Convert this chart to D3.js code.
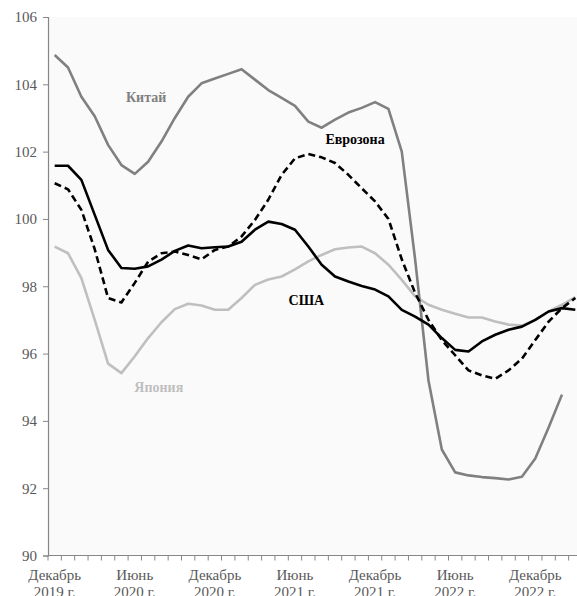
<!DOCTYPE html>
<html>
<head>
<meta charset="utf-8">
<script src="https://cdn.jsdelivr.net/npm/d3@7"></script>
<style>
  html, body { margin: 0; padding: 0; background: #ffffff; overflow: hidden; }
  svg { display: block; }
</style>
</head>
<body>
<svg id="chart" width="577" height="596"></svg>
<script>
// Months: December 2019 .. March 2023 (40 monthly points)
const months = d3.range(40).map(i => "m" + i);
const tickLabels = [
  {i: 0,  l1: "Декабрь", l2: "2019 г."},
  {i: 6,  l1: "Июнь",    l2: "2020 г."},
  {i: 12, l1: "Декабрь", l2: "2020 г."},
  {i: 18, l1: "Июнь",    l2: "2021 г."},
  {i: 24, l1: "Декабрь", l2: "2021 г."},
  {i: 30, l1: "Июнь",    l2: "2022 г."},
  {i: 36, l1: "Декабрь", l2: "2022 г."}
];
const yTicks = [90, 92, 94, 96, 98, 100, 102, 104, 106];

const china = [104.87, 104.5, 103.63, 103.05, 102.2, 101.6, 101.34, 101.7, 102.3, 103.0,
  103.63, 104.03, 104.17, 104.31, 104.45, 104.14, 103.83, 103.6, 103.36, 102.89,
  102.71, 102.95, 103.16, 103.3, 103.47, 103.27, 102.0, 98.8, 95.2, 93.15,
  92.47, 92.38, 92.33, 92.3, 92.26, 92.34, 92.88, 93.8, 94.78];
const eurozone = [101.06, 100.88, 100.27, 99.1, 97.65, 97.52, 98.1, 98.73, 98.98, 99.03,
  98.93, 98.8, 99.08, 99.18, 99.48, 99.97, 100.57, 101.31, 101.8, 101.93,
  101.83, 101.66, 101.31, 100.91, 100.52, 100.0, 98.8, 97.8, 97.0, 96.4,
  95.95, 95.5, 95.35, 95.25, 95.5, 95.85, 96.4, 96.95, 97.35, 97.65];
const usa = [101.58, 101.58, 101.16, 100.12, 99.08, 98.54, 98.52, 98.59, 98.79, 99.05,
  99.21, 99.13, 99.16, 99.18, 99.32, 99.68, 99.92, 99.85, 99.68, 99.18,
  98.64, 98.29, 98.14, 98.01, 97.9, 97.7, 97.3, 97.1, 96.86, 96.46,
  96.11, 96.06, 96.36, 96.56, 96.71, 96.8, 97.0, 97.25, 97.35, 97.3];
const japan = [99.18, 98.98, 98.24, 97.0, 95.7, 95.42, 95.92, 96.46, 96.93, 97.32,
  97.48, 97.43, 97.3, 97.3, 97.65, 98.04, 98.2, 98.29, 98.5, 98.74,
  98.93, 99.1, 99.15, 99.18, 98.98, 98.64, 98.19, 97.7, 97.45, 97.3,
  97.18, 97.07, 97.07, 96.95, 96.86, 96.83, 97.0, 97.25, 97.45, 97.68];

const seriesLabels = [
  {name: "Китай",    color: "#808080", month: 6.85, value: 103.47},
  {name: "Еврозона", color: "#000000", month: 22.5, value: 102.22},
  {name: "США",      color: "#000000", month: 18.85, value: 97.44},
  {name: "Япония",   color: "#bfbfbf", month: 7.8,  value: 94.87}
];

const svg = d3.select("#chart");
const mLeft = 48, mTop = 17, mBottom = 555.5, step = 13.35;
const x = d3.scaleBand().domain(months).range([mLeft, mLeft + step * months.length]);
const y = d3.scaleLinear().domain([90, 106]).range([mBottom, mTop]);
const cx = i => x(months[i]) + x.bandwidth() / 2;
// fractional month position for free-floating labels
const xPos = m => x(months[0]) + x.bandwidth() / 2 + m * x.step();

// plot area background
svg.append("rect")
  .attr("x", mLeft).attr("y", mTop)
  .attr("width", 577 - mLeft).attr("height", mBottom - mTop)
  .attr("fill", "#fafafa");

const font = "'Liberation Serif', 'Times New Roman', serif";

// Y axis
const yAxis = d3.axisLeft(y).tickValues(yTicks).tickSize(5).tickPadding(6).tickFormat(d3.format("d"));
const gy = svg.append("g").attr("transform", `translate(${mLeft},0)`).call(yAxis);
gy.select(".domain").attr("stroke", "#868686").attr("stroke-width", 1.2);
gy.selectAll(".tick line").attr("stroke", "#868686");
gy.selectAll(".tick text").attr("font-family", font).attr("font-size", 15).attr("fill", "#595959");

// X axis: ticks at category boundaries
const boundaries = d3.range(months.length + 1).map(i => mLeft + i * step);
const gx = svg.append("g");
gx.append("line").attr("x1", mLeft).attr("x2", mLeft + step * months.length)
  .attr("y1", mBottom).attr("y2", mBottom).attr("stroke", "#868686").attr("stroke-width", 1.2);
gx.selectAll(".bt").data(boundaries).join("line")
  .attr("x1", d => d).attr("x2", d => d).attr("y1", mBottom).attr("y2", mBottom + 5)
  .attr("stroke", "#868686");
const lbl = gx.selectAll(".xl").data(tickLabels).join("text")
  .attr("x", d => cx(d.i)).attr("text-anchor", "middle")
  .attr("font-family", font).attr("font-size", 15).attr("fill", "#595959");
lbl.append("tspan").attr("x", d => cx(d.i)).attr("y", 580).text(d => d.l1);
lbl.append("tspan").attr("x", d => cx(d.i)).attr("y", 597).text(d => d.l2);

// lines
const line = d3.line().x((d, i) => cx(i)).y(d => y(d));
const draw = (data, color, dash) => {
  svg.append("path").datum(data).attr("d", line)
    .attr("fill", "none").attr("stroke", color).attr("stroke-width", 2.6)
    .attr("stroke-linejoin", "round")
    .attr("stroke-dasharray", dash || null);
};
draw(japan, "#bfbfbf");
draw(china, "#808080");
draw(eurozone, "#000000", "7,4");
draw(usa, "#000000");

// series labels
svg.selectAll(".sl").data(seriesLabels).join("text")
  .attr("x", d => xPos(d.month)).attr("y", d => y(d.value))
  .attr("text-anchor", "middle")
  .attr("font-family", font).attr("font-weight", "bold").attr("font-size", 14)
  .attr("fill", d => d.color)
  .text(d => d.name);
</script>
</body>
</html>
